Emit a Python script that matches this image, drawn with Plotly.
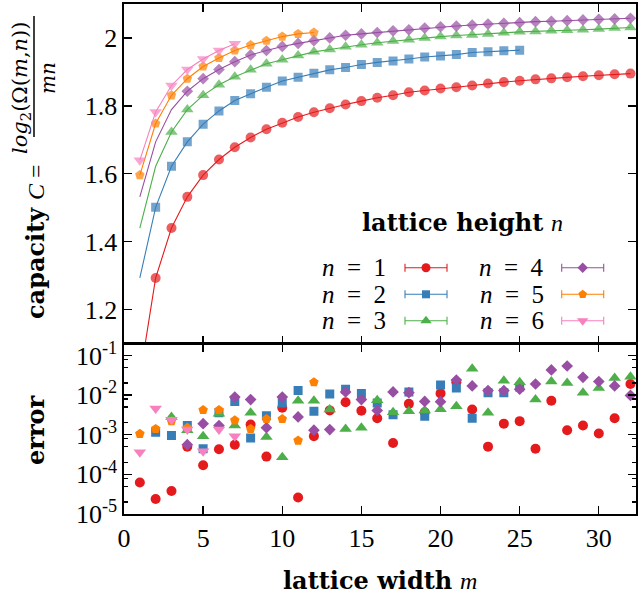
import plotly.graph_objects as go

# ---------------- data ----------------
m_all = list(range(1, 33))

cap_n1 = [1.000, 1.293, 1.440, 1.532, 1.596, 1.642, 1.678, 1.707, 1.731, 1.750, 1.767, 1.781,
          1.793, 1.804, 1.814, 1.824, 1.831, 1.840, 1.845, 1.851, 1.855, 1.860, 1.866, 1.870,
          1.874, 1.878, 1.881, 1.884, 1.887, 1.890, 1.893, 1.895]
cap_n2 = [1.293, 1.501, 1.622, 1.694, 1.746, 1.785, 1.816, 1.836, 1.855, 1.873, 1.884, 1.896,
          1.906, 1.913, 1.922, 1.928, 1.932, 1.938, 1.944, 1.947, 1.951, 1.957, 1.959, 1.962, 1.964]
cap_n3 = [1.440, 1.622, 1.723, 1.789, 1.831, 1.862, 1.886, 1.906, 1.924, 1.936, 1.948, 1.959,
          1.966, 1.974, 1.980, 1.986, 1.991, 1.995, 2.000, 2.004, 2.007, 2.009, 2.012, 2.015,
          2.018, 2.019, 2.021, 2.023, 2.024, 2.026, 2.029, 2.031]
cap_n4 = [1.532, 1.694, 1.789, 1.843, 1.880, 1.907, 1.930, 1.950, 1.963, 1.975, 1.984, 1.992,
          2.000, 2.008, 2.012, 2.016, 2.021, 2.024, 2.029, 2.033, 2.035, 2.038, 2.041, 2.043,
          2.045, 2.048, 2.049, 2.051, 2.053, 2.055, 2.056, 2.058]
cap_n5 = [1.596, 1.748, 1.831, 1.880, 1.916, 1.941, 1.963, 1.979, 1.992, 2.004, 2.012, 2.016]
cap_n6 = [1.640, 1.782, 1.860, 1.907, 1.938, 1.963, 1.983]

# first m with a marker in the capacity panel, per n
first_marked_m = [1, 2, 3, 4, 1, 1]

err_m_n1 = list(range(1, 33))
err_n1 = [6.2e-5, 2.4e-5, 3.8e-5, 5.0e-4, 1.7e-4, 4.3e-4, 5.6e-4, 1.8e-3, 2.8e-4, 4.8e-3, 2.6e-5,
          9.2e-4, 4.1e-3, 6.6e-3, 4.0e-3, 2.6e-3, 6.2e-4, 6.0e-3, 3.7e-3, 1.1e-2, 2.1e-2, 4.3e-3,
          5.0e-4, 1.9e-3, 2.2e-3, 4.4e-4, 7.2e-3, 1.3e-3, 1.7e-3, 1.07e-3, 2.6e-3, 1.9e-2]
err_m_n2 = list(range(2, 26))
err_n2 = [1.15e-3, 9.5e-4, 1.7e-3, 4.4e-4, 3.6e-3, 6.9e-3, 8.3e-4, 3.0e-3, 6.3e-3, 1.3e-2, 3.9e-3,
          1.07e-2, 1.4e-2, 1.1e-2, 6.3e-3, 3.2e-3, 1.2e-2, 2.9e-3, 1.8e-2, 1.5e-2, 2.6e-3, 1.15e-2,
          1.15e-2, 1.6e-2]
err_m_n3 = list(range(3, 33))
err_n3 = [2.8e-3, 1.3e-3, 9.2e-4, 3.4e-3, 1.7e-3, 3.6e-3, 8.8e-4, 2.7e-4, 7.2e-3, 7.2e-3, 4.3e-3,
          1.4e-3, 1.5e-3, 7.4e-3, 3.7e-3, 3.9e-3, 4.1e-3, 4.4e-3, 5.2e-3, 4.6e-2, 3.6e-3, 2.3e-2,
          2.1e-2, 7.7e-3, 2.2e-2, 2.0e-2, 1.15e-2, 1.5e-2, 2.7e-2, 2.9e-2]
err_m_n4 = list(range(4, 33))
err_n4 = [5.6e-4, 1.9e-3, 1.7e-3, 8.9e-3, 7.7e-3, 1.5e-3, 8.9e-3, 2.8e-3, 1.3e-3, 1.35e-3, 1.2e-2,
          7.7e-3, 4.1e-3, 1.2e-2, 1.15e-2, 6.9e-3, 6.8e-3, 2.4e-2, 1.7e-2, 1.3e-2, 1.3e-2, 1.4e-2,
          1.9e-2, 4.3e-2, 5.4e-2, 2.8e-2, 2.2e-2, 1.7e-2, 9.8e-3]
err_m_n5 = list(range(1, 13))
err_n5 = [1.05e-3, 1.4e-3, 2.2e-3, 1.5e-3, 4.2e-3, 4.2e-3, 2.3e-3, 1.4e-3, 2.5e-3, 2.5e-3, 7.1e-4, 2.1e-2]
err_m_n6 = list(range(1, 8))
err_n6 = [3.6e-4, 4.6e-3, 2.4e-3, 1.35e-3, 3.8e-4, 1.35e-3, 9.2e-4]

series_labels = ["1", "2", "3", "4", "5", "6"]
x_ticks = [0, 5, 10, 15, 20, 25, 30]
cap_ticks = [1.2, 1.4, 1.6, 1.8, 2.0]
cap_ticktext = ["1.2", "1.4", "1.6", "1.8", "2"]
err_ticks = [1e-5, 1e-4, 1e-3, 1e-2, 1e-1]
err_ticktext = ["10<sup>-5</sup>", "10<sup>-4</sup>", "10<sup>-3</sup>", "10<sup>-2</sup>", "10<sup>-1</sup>"]

# ---------------- style ----------------
colors = ["#e41a1c", "#377eb8", "#4daf4a", "#984ea3", "#ff7f00", "#f781bf"]
symbols = ["circle", "square", "triangle-up", "diamond", "pentagon", "triangle-down"]
msizes = [10, 9, 11, 9, 10, 11]
FONT = "Liberation Serif"
BOLDFONT = "DejaVu Serif"
W, H = 643, 597
L, R, T, B = 124, 7, 4, 83
split = 0.3343
XR = [0, 32.35]
YR = [1.1, 2.1]

caps = [cap_n1, cap_n2, cap_n3, cap_n4, cap_n5, cap_n6]
errs = [(err_m_n1, err_n1), (err_m_n2, err_n2), (err_m_n3, err_n3),
        (err_m_n4, err_n4), (err_m_n5, err_n5), (err_m_n6, err_n6)]

fig = go.Figure()

for i, cap in enumerate(caps):
    ms = m_all[:len(cap)]
    sizes = [msizes[i] if m >= first_marked_m[i] else 0 for m in ms]
    fig.add_trace(go.Scatter(
        x=ms, y=cap, mode="lines+markers", xaxis="x", yaxis="y",
        line=dict(color=colors[i], width=1.1),
        marker=dict(symbol=symbols[i], size=sizes, color=colors[i], line=dict(width=0)),
        showlegend=False))

for i, (em, ev) in enumerate(errs):
    fig.add_trace(go.Scatter(
        x=em, y=ev, mode="markers", xaxis="x2", yaxis="y2",
        marker=dict(symbol=symbols[i], size=msizes[i], color=colors[i], line=dict(width=0)),
        showlegend=False))

# ---- pixel helpers (for legend / labels placement) ----
pw, ph = W - L - R, H - T - B
def px2paper(px):
    return (px - L) / pw
def py2paper(py):
    return (H - B - py) / ph
top_y0 = T
top_y1 = T + ph * (1 - split)
def px2data(px):
    return XR[0] + (px - L) / pw * (XR[1] - XR[0])
def py2data(py):
    return YR[1] - (py - top_y0) / (top_y1 - top_y0) * (YR[1] - YR[0])

# ---- legend (gnuplot-style: text, then sample with error-bar caps) ----
leg_rows_py = [267.7, 294.3, 320.7]
leg_text_right_px = [388, 546]
leg_sample_px = [426, 582.7]
leg_half_px = 21
for i in range(6):
    col, row = i // 3, i % 3
    fig.add_trace(go.Scatter(
        x=[px2data(leg_sample_px[col])], y=[py2data(leg_rows_py[row])],
        mode="markers", xaxis="x", yaxis="y", cliponaxis=False,
        marker=dict(symbol=symbols[i], size=msizes[i] - 1, color=colors[i], line=dict(width=0)),
        error_x=dict(type="constant", value=leg_half_px / pw * (XR[1] - XR[0]),
                     color=colors[i], thickness=1.1, width=4),
        showlegend=False))

annotations = []
for i, lab in enumerate(series_labels):
    col, row = i // 3, i % 3
    annotations.append(dict(
        x=px2paper(leg_text_right_px[col]), y=py2paper(leg_rows_py[row]),
        xref="paper", yref="paper", xanchor="right", yanchor="middle", showarrow=False,
        text="<i>n</i>&nbsp;&nbsp;=&nbsp;&nbsp;" + lab,
        font=dict(family=FONT, size=25, color="black")))

annotations.append(dict(
    x=px2paper(462), y=py2paper(222), xref="paper", yref="paper",
    xanchor="center", yanchor="middle", showarrow=False,
    text="<b>lattice height</b> <span style='font-family:Liberation Serif'><i>n</i></span>",
    font=dict(family=BOLDFONT, size=24, color="black")))

# axis titles
annotations.append(dict(
    x=px2paper(380), y=py2paper(580), xref="paper", yref="paper",
    xanchor="center", yanchor="middle", showarrow=False,
    text="<b>lattice width</b> <span style='font-family:Liberation Serif'><i>m</i></span>",
    font=dict(family=BOLDFONT, size=24, color="black")))
annotations.append(dict(
    x=px2paper(35), y=py2paper(430), xref="paper", yref="paper",
    xanchor="center", yanchor="middle", showarrow=False, textangle=-90,
    text="<b>error</b>", font=dict(family=BOLDFONT, size=24, color="black")))
annotations.append(dict(
    x=px2paper(35), y=py2paper(242), xref="paper", yref="paper",
    xanchor="center", yanchor="middle", showarrow=False, textangle=-90,
    text="<b>capacity</b> <span style='font-family:Liberation Serif'><i>C</i> =</span>",
    font=dict(family=BOLDFONT, size=24, color="black")))
annotations.append(dict(
    x=px2paper(21), y=py2paper(88), xref="paper", yref="paper",
    xanchor="center", yanchor="middle", showarrow=False, textangle=-90,
    text="<i>log</i><sub>2</sub>(Ω(<i>m</i>,<i>n</i>))",
    font=dict(family="DejaVu Serif", size=21, color="black")))
annotations.append(dict(
    x=px2paper(48), y=py2paper(78), xref="paper", yref="paper",
    xanchor="center", yanchor="middle", showarrow=False, textangle=-90,
    text="<i>mn</i>", font=dict(family="DejaVu Serif", size=20, color="black")))

shapes = [dict(type="line", xref="paper", yref="paper",
               x0=px2paper(34), x1=px2paper(34), y0=py2paper(16), y1=py2paper(137),
               line=dict(color="black", width=1.5))]

axis_common = dict(showline=True, linecolor="black", linewidth=1.6, mirror="allticks",
                   ticks="inside", tickcolor="black", tickwidth=1.3, ticklen=8,
                   showgrid=False, zeroline=False, automargin=False,
                   tickfont=dict(family=FONT, size=26, color="black"))

fig.update_layout(
    width=W, height=H,
    margin=dict(l=L, r=R, t=T, b=B, autoexpand=False),
    paper_bgcolor="white", plot_bgcolor="white",
    xaxis=dict(domain=[0, 1], range=XR, anchor="y", tickvals=x_ticks,
               showticklabels=False, **axis_common),
    yaxis=dict(domain=[split, 1], range=YR, anchor="x", tickvals=cap_ticks,
               ticktext=cap_ticktext, **axis_common),
    xaxis2=dict(domain=[0, 1], range=XR, anchor="y2", matches="x", tickvals=x_ticks,
                **axis_common),
    yaxis2=dict(domain=[0, split], type="log", range=[-5, -0.7], anchor="x2",
                tickvals=err_ticks, ticktext=err_ticktext,
                minor=dict(ticks="inside", ticklen=4, tickcolor="black",
                           tickvals=[k * 10 ** e for e in range(-5, 0) for k in (2, 5, 8)]),
                **axis_common),
    annotations=annotations,
    shapes=shapes,
    showlegend=False,
    hovermode=False,
)

fig.write_html("out.html", config={"displayModeBar": False, "staticPlot": True},
               post_script="document.body.style.margin='0';document.body.style.padding='0';")
